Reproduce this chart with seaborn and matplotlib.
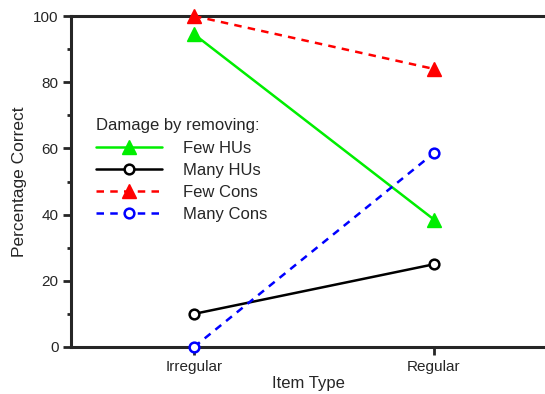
import numpy as np
import pandas as pd
import matplotlib
matplotlib.use("Agg")
import matplotlib.pyplot as plt
import seaborn as sns

item_types = ["Irregular", "Regular"]
series_names = ["Few HUs", "Many HUs", "Few Cons", "Many Cons"]
few_hus = [94.5, 38.5]
many_hus = [10.0, 25.0]
few_cons = [100.0, 84.0]
many_cons = [0.0, 58.6]

values = [few_hus, many_hus, few_cons, many_cons]
rows = []
for name, vals in zip(series_names, values):
    for i, v in enumerate(vals):
        rows.append({"pos": i, "Item Type": item_types[i], "Damage": name, "pct": v})
df = pd.DataFrame(rows)

sns.set_style("ticks")
plt.rcParams["font.family"] = ["Liberation Sans", "DejaVu Sans"]

colors = {"Few HUs": "#00ee00", "Many HUs": "black", "Few Cons": "#ff0000", "Many Cons": "#0000ff"}
styles = {
    "Few HUs": dict(ls="-", marker="^", ms=10, mfc="#00ee00", mew=1),
    "Many HUs": dict(ls="-", marker="o", ms=7, mfc="white", mew=1.8),
    "Few Cons": dict(ls=(0, (3, 2.5)), marker="^", ms=10, mfc="#ff0000", mew=1),
    "Many Cons": dict(ls=(0, (3, 2.5)), marker="o", ms=7, mfc="white", mew=1.8),
}

fig = plt.figure(figsize=(5.45, 3.94), dpi=100)
ax = fig.add_axes([71 / 545, 1 - 347 / 394, 1 - 71 / 545, (347 - 16) / 394])

handles = []
for name in series_names:
    sub = df[df["Damage"] == name]
    st = styles[name]
    sns.lineplot(data=sub, x="pos", y="pct", ax=ax, color=colors[name],
                 linestyle=st["ls"], linewidth=1.8, legend=False, zorder=3)
    ax.plot(sub["pos"], sub["pct"], linestyle="none", marker=st["marker"],
            markersize=st["ms"], markerfacecolor=st["mfc"],
            markeredgecolor=colors[name], markeredgewidth=st["mew"],
            clip_on=False, zorder=4)
    proxy, = ax.plot([], [], color=colors[name], linestyle=st["ls"], linewidth=1.8,
                     marker=st["marker"], markersize=st["ms"], markerfacecolor=st["mfc"],
                     markeredgecolor=colors[name], markeredgewidth=st["mew"])
    handles.append(proxy)

ax.set_xlim(-0.5125, 1.4625)
ax.set_ylim(0, 100)
ax.set_xticks([0, 1])
ax.set_xticklabels(item_types)
ax.set_yticks(np.arange(0, 101, 20))
ax.set_yticks(np.arange(10, 100, 20), minor=True)
ax.tick_params(axis="both", which="major", direction="out", length=6, width=2, labelsize=11, pad=3)
ax.tick_params(axis="y", which="minor", direction="out", length=3, width=2)
ax.set_xlabel("Item Type", fontsize=12, labelpad=2)
ax.set_ylabel("Percentage Correct", fontsize=12.5, labelpad=4)

for side in ["left", "bottom", "top"]:
    ax.spines[side].set_linewidth(2.2)
ax.spines["right"].set_visible(False)

leg = ax.legend(handles, series_names, title="Damage by removing:", frameon=False,
                loc="upper left", bbox_to_anchor=(84 / 545, 1 - 106 / 394),
                bbox_transform=fig.transFigure, fontsize=12, title_fontsize=12,
                handlelength=4.0, handletextpad=1.25, labelspacing=0.42,
                borderpad=0.2)
leg._legend_box.align = "left"
leg._legend_box.sep = 6

fig.savefig("out.png", dpi=100)
